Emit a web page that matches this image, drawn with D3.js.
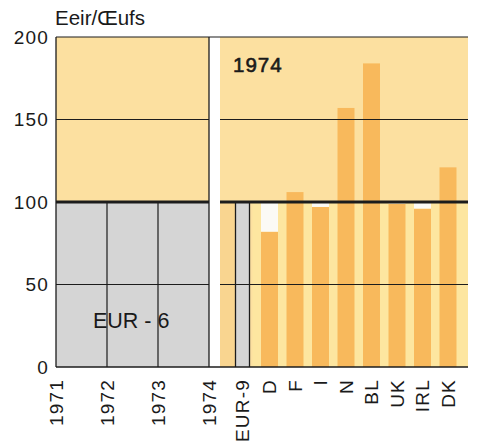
<!DOCTYPE html>
<html><head><meta charset="utf-8">
<script src="https://cdn.jsdelivr.net/npm/d3@7"></script>
<style>
html,body{margin:0;padding:0;background:#fff;}
text{font-family:"Liberation Sans",Arial,sans-serif;fill:#1a1a1a;}
</style></head>
<body>
<script>
// ---- data ----
const years = ["1971", "1972", "1973", "1974"];
const eur6Values = [100, 100, 100, 100];
const countries = ["EUR-9", "D", "F", "I", "N", "BL", "UK", "IRL", "DK"];
const values1974 = [100, 82, 106, 97, 157, 184, 99, 96, 121];
const yTicks = [0, 50, 100, 150, 200];
const yTitle = "Eeir/Œufs";
const leftLabel = "EUR - 6";
const rightLabel = "1974";

const W = 478, H = 443;
const svg = d3.select("body").append("svg").attr("width", W).attr("height", H);

const y = d3.scaleLinear().domain([0, 200]).range([367, 37]);
const xL = d3.scalePoint().domain(years).range([56, 209]);
const xR = d3.scaleBand().domain(countries).range([235.5, 456.5]).paddingInner(1/3).paddingOuter(0);
const rightPanel = [220, 468];

const YEL = "#fce0a0", GRAY = "#d5d5d5", ORANGE = "#f8b95c", LIGHT = "#fde6a0", STRIP = "#f9d590", LINE = "#1c1c1c";

// left panel
svg.append("rect").attr("x", xL.range()[0]).attr("y", y(200))
  .attr("width", xL.range()[1] - xL.range()[0]).attr("height", y(0) - y(200)).attr("fill", YEL);
const area = d3.area().x(d => xL(d.year)).y0(y(0)).y1(d => y(d.v));
svg.append("path").datum(years.map((yr, i) => ({year: yr, v: eur6Values[i]})))
  .attr("d", area).attr("fill", GRAY);
svg.selectAll(".vl").data(years).enter().append("line")
  .attr("x1", d => xL(d)).attr("x2", d => xL(d))
  .attr("y1", (d, i) => (i === 0 || i === years.length - 1) ? y(200) : y(eur6Values[i]))
  .attr("y2", y(0)).attr("stroke", LINE).attr("stroke-width", (d, i) => (i === 0 || i === years.length - 1) ? 1.3 : 1.2);

// right panel
svg.append("rect").attr("x", rightPanel[0]).attr("y", y(200))
  .attr("width", rightPanel[1] - rightPanel[0]).attr("height", y(0) - y(200)).attr("fill", YEL);
svg.append("rect").attr("x", xR("EUR-9") + xR.bandwidth()).attr("y", y(100))
  .attr("width", rightPanel[1] - xR("EUR-9") - xR.bandwidth()).attr("height", y(0) - y(100)).attr("fill", LIGHT);
svg.append("rect").attr("x", rightPanel[0]).attr("y", y(100))
  .attr("width", xR("EUR-9") - rightPanel[0]).attr("height", y(0) - y(100)).attr("fill", STRIP);

const data = countries.map((c, i) => ({c, v: values1974[i]}));
const bw = xR.bandwidth();
// country bars
svg.selectAll(".bar").data(data.filter(d => d.c !== "EUR-9")).enter().append("rect")
  .attr("x", d => xR(d.c)).attr("width", bw)
  .attr("y", d => y(d.v)).attr("height", d => y(0) - y(d.v)).attr("fill", ORANGE);
// shortfall below 100
svg.selectAll(".gap").data(data.filter(d => d.c !== "EUR-9" && d.v < 100)).enter().append("rect")
  .attr("x", d => xR(d.c)).attr("width", bw)
  .attr("y", y(100)).attr("height", d => y(d.v) - y(100)).attr("fill", "#fbfaf5");
// EUR-9 bar
const e9 = data[0];
svg.append("rect").attr("x", xR(e9.c)).attr("width", bw - 3)
  .attr("y", y(e9.v)).attr("height", y(0) - y(e9.v)).attr("fill", GRAY);
[xR(e9.c), xR(e9.c) + bw - 3].forEach(xx => svg.append("line")
  .attr("x1", xx).attr("x2", xx).attr("y1", y(e9.v)).attr("y2", y(0))
  .attr("stroke", LINE).attr("stroke-width", 1.3));

// horizontal grid lines
const segs = [[xL.range()[0], xL.range()[1]], rightPanel];
yTicks.forEach(t => {
  segs.forEach((s, si) => {
    svg.append("line").attr("x1", s[0]).attr("x2", s[1] + (si === 0 && (t === 200 || t === 0) ? 11 : 0))
      .attr("y1", y(t)).attr("y2", y(t)).attr("stroke", LINE)
      .attr("stroke-width", t === 100 ? 3 : (t === 0 ? 1.5 : 1.2));
  });
});

// y tick labels
svg.selectAll(".yt").data(yTicks).enter().append("text")
  .attr("x", 49).attr("y", d => y(d)).attr("dy", "0.36em").attr("text-anchor", "end")
  .style("font-size", "19px").style("letter-spacing", "1.2px").text(d => d);

// y title
svg.append("text").attr("x", 55).attr("y", 25).style("font-size", "20.5px").text(yTitle);

// panel labels
svg.append("text").attr("x", 233).attr("y", 72).style("font-size", "20.5px")
  .style("stroke", "#1a1a1a").style("stroke-width", "0.6px")
  .style("letter-spacing", "1px").text(rightLabel);
svg.append("text").attr("x", 93).attr("y", 328).style("font-size", "21.5px").text(leftLabel);

// x labels rotated
const xLabels = years.map(d => ({t: d, x: xL(d)}))
  .concat(countries.map(c => ({t: c, x: xR(c) + (c === "EUR-9" ? (bw - 3) / 2 : bw / 2)})));
svg.selectAll(".xl").data(xLabels).enter().append("text")
  .attr("transform", d => `translate(${d.x},379) rotate(-90)`)
  .attr("text-anchor", "end").attr("dy", "0.36em")
  .style("font-size", "19px").style("letter-spacing", "1.2px").text(d => d.t);
</script>
</body></html>
